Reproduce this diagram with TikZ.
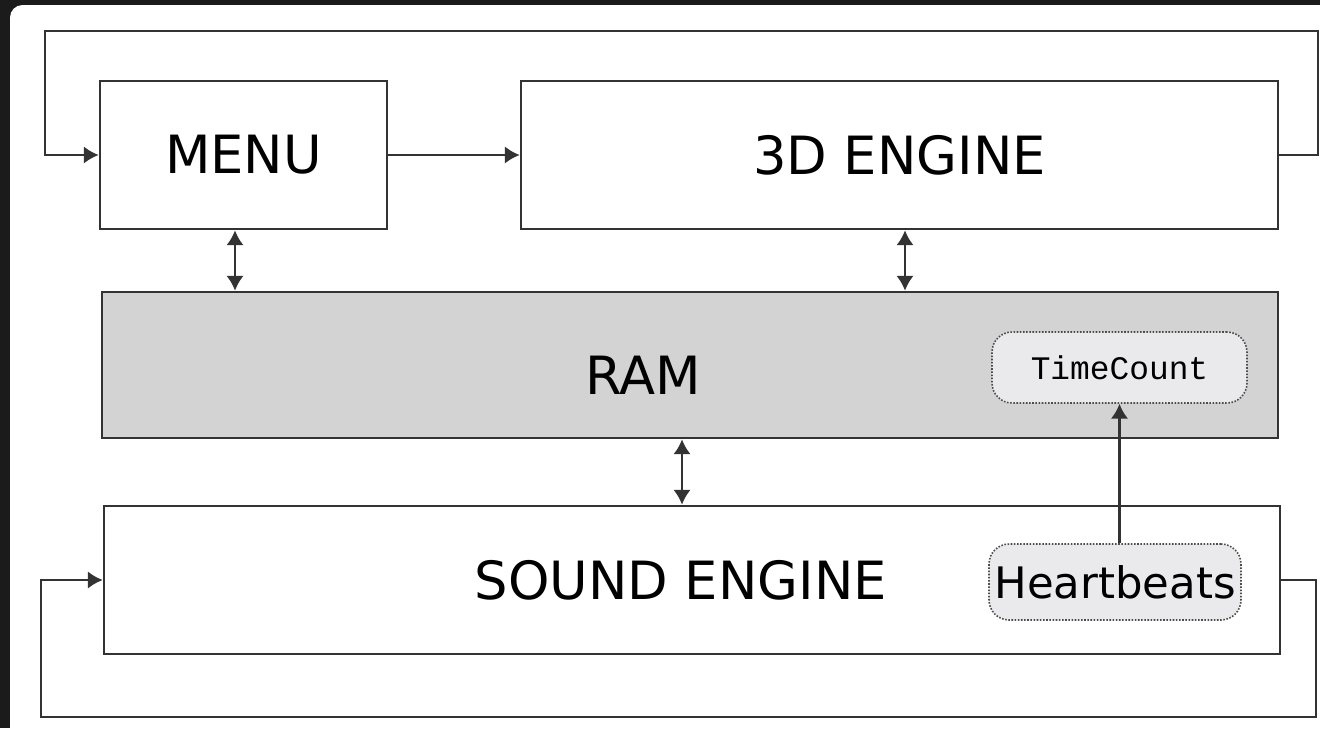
\documentclass[tikz,border=0pt]{standalone}
\usepackage{fontspec}
\setmainfont{DejaVu Sans}
\newfontfamily\tcfont{Liberation Mono}
\usepackage{tikz}
\usetikzlibrary{arrows.meta,calc,positioning}
\definecolor{frame}{HTML}{1B1B1C}
\definecolor{ramgray}{HTML}{D3D3D3}
\definecolor{varfill}{HTML}{EAEAEC}

\begin{document}
\begin{tikzpicture}[x=0.02cm,y=-0.02cm,
box/.style={rectangle,draw=black!80,line width=1.5pt,inner sep=0pt,
  minimum height=2.96cm,font=\fontsize{30}{36}\selectfont},
var/.style={rectangle,rounded corners=0.4cm,draw=black!70,line width=0.9pt,
  dash pattern=on 0.9pt off 0.9pt,fill=varfill,inner sep=0pt},
link/.style={draw=black!80,line width=1.5pt},
tip/.style={-{Latex[length=8.5pt,width=10pt]}},
both/.style={{Latex[length=8.5pt,width=10pt]}-{Latex[length=8.5pt,width=10pt]}}]
\useasboundingbox (0,0) rectangle (1320,728);
\fill[frame] (0,0) rectangle (1320,728);
\fill[white,rounded corners=0.25cm] (10,5) rectangle (1320,728);
\fill[white] (10,30) rectangle (1320,728);
\fill[white] (30,5) rectangle (1320,728);
\node[box,minimum width=5.74cm] (Menu) at (243.5,155) {MENU};
\node[box,minimum width=15.14cm] (Eng) at (899.5,155) {3D ENGINE};
\node[box,minimum width=23.52cm,minimum height=2.92cm,fill=ramgray,
  label={[font=\fontsize{30}{36}\selectfont,xshift=-0.94cm,yshift=-0.2cm]center:RAM}] (Ram) at (690,365) {};
\node[box,minimum width=23.52cm] (Snd) at (692,580) {\hspace*{-0.45cm}SOUND ENGINE};
\node[var,minimum width=5.1cm,minimum height=1.42cm,
  font=\tcfont\fontsize{18.7}{22}\selectfont] (Tc) at (1119.5,367.5) {TimeCount};
\node[var,minimum width=5.04cm,minimum height=1.52cm,
  font=\fontsize{24.7}{30}\selectfont] (Hb) at (1115,582) {Heartbeats};
\coordinate (TR) at (1318,31);
\coordinate (TL) at (45,31);
\coordinate (BR) at (1316,717);
\coordinate (BL) at (41,717);
\draw[link,tip] (Menu)--(Eng);
\draw[link,tip] (Eng.east) -| (TR) -- (TL) |- (Menu.west);
\draw[link,tip] (Snd.east) -| (BR) -- (BL) |- (Snd.west);
\draw[link,both] ([xshift=-0.17cm]Menu.south) -- ([xshift=-0.17cm]Menu.south |- Ram.north);
\draw[link,both] ([xshift=0.11cm]Eng.south) -- ([xshift=0.11cm]Eng.south |- Ram.north);
\draw[link,both] ([xshift=-0.16cm]Ram.south) -- ([xshift=-0.16cm]Ram.south |- Snd.north);
\draw[link,tip] (Tc.south |- Hb.north) -- (Tc.south);
\end{tikzpicture}
\end{document}
